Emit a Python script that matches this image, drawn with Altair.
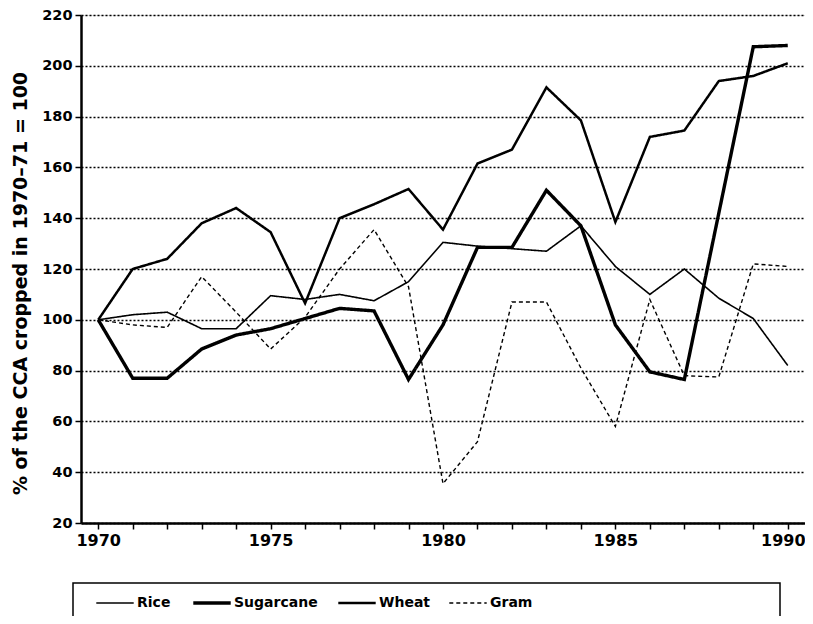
import altair as alt
import pandas as pd

years = list(range(1970, 1991))
rice = [100, 102, 103, 96.5, 96.5, 109.5, 108, 110, 107.5, 115, 130.5, 129, 128, 127, 137, 121, 110, 120, 108.5, 100.5, 82]
sugarcane = [100, 77, 77, 88.5, 94, 96.5, 100.5, 104.5, 103.5, 76.5, 98, 128.5, 128.5, 151, 137, 98, 79.5, 76.5, 142, 207.5, 208]
wheat = [100, 120, 124, 138, 144, 134.5, 106.5, 140, 145.5, 151.5, 135.5, 161.5, 167, 191.5, 178.5, 138.5, 172, 174.5, 194, 196, 201]
gram = [100, 98, 97, 117, 103, 88.5, 101, 120, 135.5, 113, 35.5, 52, 107, 107, 81, 58, 108, 78, 77.5, 122, 121]

crops = ["Rice", "Sugarcane", "Wheat", "Gram"]
series = {"Rice": rice, "Sugarcane": sugarcane, "Wheat": wheat, "Gram": gram}
y_ticks = list(range(20, 221, 20))

rows = []
for c in crops:
    for yr, v in zip(years, series[c]):
        rows.append({"year": yr, "value": v, "crop": c})
df = pd.DataFrame(rows)

# styles
FONT = "DejaVu Sans"
widths = {"Rice": 1.6, "Sugarcane": 3.4, "Wheat": 2.5, "Gram": 1.4}
dashes = [[1, 0], [1, 0], [1, 0], [4, 3]]
width_expr = ("datum.value === 'Sugarcane' ? 3.4 : datum.value === 'Wheat' ? 2.5 : "
              "datum.value === 'Gram' ? 1.4 : 1.6")

x_enc = alt.X("year:Q",
              scale=alt.Scale(domain=[1969.5, 1990.5], nice=False, zero=False),
              axis=alt.Axis(values=years, format="d", title=None, grid=False,
                            labelExpr="datum.value % 5 == 0 ? datum.label : ''",
                            labelFontSize=16, labelFontWeight="bold", labelFont=FONT,
                            labelColor="black", labelPadding=3,
                            labelOffset={"condition": {"test": "datum.value == 1990", "value": -5},
                                         "value": 0},
                            tickSize=6, tickWidth=1.5, tickColor="black",
                            domainColor="black", domainWidth=2.5))
y_enc = alt.Y("value:Q",
              scale=alt.Scale(domain=[20, 220], nice=False, zero=False),
              axis=alt.Axis(values=y_ticks, title="% of the CCA cropped in 1970\u201371 = 100",
                            titleFontSize=19, titleFontWeight="bold", titleFont=FONT,
                            titleColor="black", titlePadding=11, titleY=268,
                            labelFontSize=14.5, labelFontWeight="bold", labelFont=FONT,
                            labelColor="black", labelPadding=3,
                            tickSize=6, tickWidth=1.5, tickColor="black",
                            domainColor="black", domainWidth=2.5,
                            grid=True, gridColor="black", gridDash=[2, 2], gridWidth=1.3))
dash_enc = alt.StrokeDash("crop:N",
                          scale=alt.Scale(domain=crops, range=dashes),
                          sort=crops,
                          legend=alt.Legend(title=None, orient="none", direction="horizontal",
                                            legendX=27, legendY=581, columns=4,
                                            symbolType="stroke", symbolSize=1400,
                                            symbolStrokeColor="black",
                                            symbolStrokeWidth={"expr": width_expr},
                                            labelFontSize=14, labelFontWeight="bold",
                                            labelFont=FONT, labelColor="black",
                                            labelOffset=15, columnPadding=15, padding=0))

layers = []
for c in crops:
    layers.append(
        alt.Chart(df).transform_filter(alt.datum.crop == c)
        .mark_line(color="black", strokeWidth=widths[c], strokeJoin="miter")
        .encode(x=x_enc, y=y_enc, strokeDash=dash_enc, order=alt.Order("year:Q"))
    )

frame = alt.Chart(pd.DataFrame({"k": [0]})).mark_rect(
    fill="white", fillOpacity=0, stroke="black", strokeWidth=1.5
).encode(
    x=alt.value(-8), x2=alt.value(699), y=alt.value(568), y2=alt.value(720)
)

chart = alt.layer(*layers, frame).properties(
    width=724, height=508,
    padding={"left": 73, "top": 7, "right": 0, "bottom": 93},
    autosize=alt.AutoSizeParams(type="none"),
).configure_view(stroke="black", strokeWidth=2).configure(background="white")

chart.save("out.html", embed_options={"renderer": "svg", "actions": False})
